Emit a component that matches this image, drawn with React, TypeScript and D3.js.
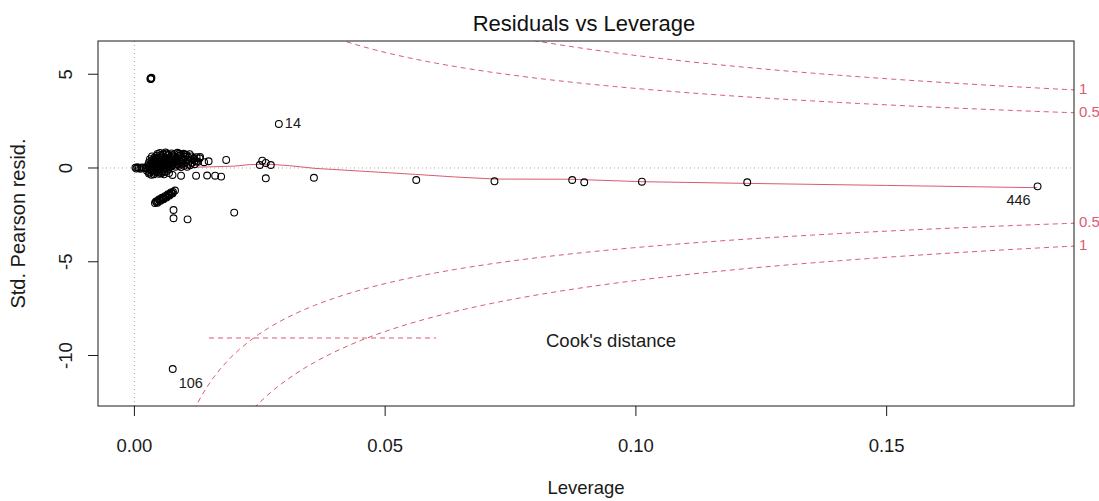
import * as d3 from 'd3';

// leverage / standardized pearson residual pairs
const nearZero: [number, number][] = [
  [0.0002, 0.02], [0.0004, -0.03], [0.0006, 0.04], [0.0009, 0.0],
  [0.0012, -0.04], [0.0015, 0.03], [0.0019, 0.01], [0.0023, -0.02]
];

const upperCluster: [number, number][] = [
  [0.0051, 0.8], [0.0062, 0.83], [0.0074, 0.78], [0.0086, 0.81], [0.0098, 0.76], [0.011, 0.74],
  [0.0035, 0.62], [0.0045, 0.66], [0.0055, 0.63], [0.0066, 0.67], [0.0078, 0.61], [0.009, 0.65],
  [0.0102, 0.6], [0.0114, 0.62], [0.0124, 0.58],
  [0.0031, 0.47], [0.0041, 0.5], [0.005, 0.46], [0.006, 0.49], [0.007, 0.45], [0.0082, 0.51],
  [0.0094, 0.47], [0.0106, 0.44], [0.0118, 0.48], [0.013, 0.52],
  [0.0029, 0.3], [0.0039, 0.34], [0.0048, 0.31], [0.0058, 0.33], [0.0068, 0.29], [0.0079, 0.32],
  [0.0091, 0.35], [0.0103, 0.3], [0.0115, 0.28], [0.0127, 0.33], [0.0139, 0.31],
  [0.0027, 0.15], [0.0037, 0.18], [0.0047, 0.14], [0.0057, 0.17], [0.0067, 0.13], [0.0077, 0.16],
  [0.0087, 0.19], [0.0099, 0.12], [0.0111, 0.15],
  [0.0148, 0.36], [0.0183, 0.43], [0.0131, 0.59], [0.0124, 0.34]
];

// points packed between the rows above, which make the blob look solid
const clusterFill: [number, number][] = [
  [0.0057, 0.73], [0.0068, 0.71], [0.008, 0.74], [0.0092, 0.7], [0.0104, 0.69],
  [0.004, 0.56], [0.005, 0.57], [0.0061, 0.55], [0.0072, 0.58], [0.0084, 0.56], [0.0096, 0.54],
  [0.0108, 0.55], [0.0119, 0.53],
  [0.0034, 0.39], [0.0044, 0.41], [0.0054, 0.4], [0.0064, 0.38], [0.0075, 0.42], [0.0086, 0.39],
  [0.0097, 0.41], [0.011, 0.38], [0.0121, 0.4],
  [0.0032, 0.23], [0.0042, 0.24], [0.0053, 0.22], [0.0063, 0.25], [0.0073, 0.23], [0.0084, 0.21],
  [0.0095, 0.24], [0.0107, 0.22], [0.012, 0.2],
  [0.0029, 0.08], [0.0039, 0.07], [0.005, 0.09], [0.006, 0.06], [0.0071, 0.08], [0.0082, 0.07],
  [0.0093, 0.05], [0.0105, 0.06],
  [0.0046, 0.75], [0.0053, 0.69], [0.0064, 0.77], [0.0076, 0.68], [0.0089, 0.76], [0.0101, 0.72],
  [0.0038, 0.44], [0.0047, 0.53], [0.0059, 0.43], [0.007, 0.52], [0.0081, 0.44], [0.0093, 0.59],
  [0.0036, 0.27], [0.0046, 0.36], [0.0056, 0.27], [0.0066, 0.35], [0.0077, 0.26], [0.0089, 0.28],
  [0.0034, 0.11], [0.0044, 0.2], [0.0055, 0.12], [0.0065, 0.2], [0.0075, 0.11], [0.0089, 0.12]
];

const lowerCluster: [number, number][] = [
  [0.0023, -0.02], [0.0033, 0.01], [0.0043, -0.03], [0.0053, 0.02], [0.0063, -0.01],
  [0.0025, -0.15], [0.0035, -0.18], [0.0045, -0.14], [0.0055, -0.17], [0.0065, -0.16],
  [0.0029, -0.3], [0.0039, -0.33], [0.0049, -0.31], [0.0059, -0.34],
  [0.0028, -0.08], [0.0038, -0.09], [0.0048, -0.07], [0.0058, -0.1], [0.0068, -0.08],
  [0.003, -0.23], [0.004, -0.25], [0.005, -0.24], [0.006, -0.22], [0.0069, -0.27],
  [0.0034, -0.12], [0.0044, -0.21], [0.0054, -0.28], [0.0064, -0.05], [0.0034, -0.36],
  [0.0076, -0.37], [0.0093, -0.41], [0.0123, -0.41], [0.0145, -0.4], [0.0161, -0.41], [0.0173, -0.46]
];

const negativeStreak: [number, number][] = [
  [0.0041, -1.87], [0.0044, -1.82], [0.0047, -1.76], [0.005, -1.72], [0.0053, -1.65], [0.0056, -1.63],
  [0.0059, -1.6], [0.0062, -1.55], [0.0065, -1.49], [0.0068, -1.45], [0.0071, -1.39], [0.0074, -1.34],
  [0.0077, -1.28], [0.0081, -1.2],
  [0.0043, -1.78], [0.0049, -1.68], [0.0055, -1.58], [0.0061, -1.5], [0.0067, -1.4], [0.0073, -1.3],
  [0.0046, -1.86], [0.0052, -1.75], [0.0058, -1.67], [0.0064, -1.58], [0.007, -1.47], [0.0076, -1.36],
  [0.0078, -2.24], [0.0078, -2.68], [0.0106, -2.74], [0.0199, -2.38]
];

const spreadPoints: [number, number][] = [
  [0.0255, 0.39], [0.025, 0.16], [0.0272, 0.16], [0.0262, 0.27], [0.0262, -0.55],
  [0.0288, 2.35], [0.0358, -0.52],
  [0.0562, -0.64], [0.0718, -0.71], [0.0873, -0.64], [0.0897, -0.76], [0.1012, -0.73],
  [0.1222, -0.76], [0.1801, -0.98],
  [0.00325, 4.78], [0.0033, 4.74], [0.0034, 4.81], [0.0032, 4.76],
  [0.00764, -10.72]
];

const idLabels = [
  { id: '14', h: 0.0288, r: 2.35, dx: 6, dy: 0, anchor: 'start' },
  { id: '106', h: 0.00764, r: -10.72, dx: 6, dy: 15, anchor: 'start' },
  { id: '446', h: 0.1801, r: -0.98, dx: -7, dy: 15, anchor: 'end' }
];

// lowess smooth through residuals
const smoothH = [0, 0.005, 0.01, 0.015, 0.02, 0.023, 0.027, 0.031, 0.036, 0.046, 0.056, 0.064, 0.072, 0.087, 0.101, 0.122, 0.15, 0.18];
const smoothR = [0, 0.01, 0.03, 0.06, 0.1, 0.18, 0.2, 0.12, -0.02, -0.18, -0.34, -0.48, -0.59, -0.6, -0.73, -0.82, -0.93, -1.05];

const cookLevels = [0.5, 1];
const cookLabels = ['0.5', '1'];
const nParams = 4;

const xTicks = [0, 0.05, 0.1, 0.15];
const yTicks = [-10, -5, 0, 5];

const W = 1099;
const H = 501;
const left = 98;
const right = 1074;
const top = 41;
const bottom = 406;
const red = '#D95B72';
const ink = '#1a1a1a';
const font = '"Liberation Sans", Arial, sans-serif';

export default function App(): JSX.Element {
  const x = d3.scaleLinear().domain([-0.00726, 0.18736]).range([left, right]);
  const y = d3.scaleLinear().domain([6.773, -12.693]).range([top, bottom]);

  const points = [
    ...nearZero, ...upperCluster, ...clusterFill, ...lowerCluster, ...negativeStreak, ...spreadPoints
  ];

  const hMin = 0.0004;
  const hMax = x.domain()[1];
  const hh = d3.range(101).map((i) => hMin + (i * (hMax - hMin)) / 100);
  const cookLine = d3
    .line<[number, number]>()
    .x((d) => x(d[0]))
    .y((d) => y(d[1]));
  const cookPaths = cookLevels.flatMap((c) =>
    [1, -1].map((s) => cookLine(hh.map((h) => [h, s * Math.sqrt((c * nParams * (1 - h)) / h)])) as string)
  );

  const smooth = d3
    .line<number>()
    .x((d) => x(d))
    .y((_, i) => y(smoothR[i]));

  return (
    <svg
      xmlns="http://www.w3.org/2000/svg"
      width={W}
      height={H}
      style={{ position: 'absolute', left: 0, top: 0, background: '#fff' }}
      fontFamily={font}
    >
      <defs>
        <clipPath id="plot-clip">
          <rect x={left} y={top} width={right - left} height={bottom - top} />
        </clipPath>
      </defs>
      <rect width={W} height={H} fill="#fff" />

      <g clipPath="url(#plot-clip)">
        <line x1={left} x2={right} y1={y(0)} y2={y(0)} stroke="#aaa" strokeDasharray="1,3" />
        <line x1={x(0)} x2={x(0)} y1={top} y2={bottom} stroke="#aaa" strokeDasharray="1,3" />
        {cookPaths.map((d, i) => (
          <path key={i} d={d} fill="none" stroke={red} strokeWidth={1} strokeDasharray="5,4" />
        ))}
        <path d={smooth(smoothH) as string} fill="none" stroke={red} strokeWidth={1} />
        {points.map((p, i) => (
          <circle key={i} cx={x(p[0])} cy={y(p[1])} r={3.4} fill="none" stroke="#000" strokeWidth={1.1} />
        ))}
      </g>

      {idLabels.map((l) => (
        <text
          key={l.id}
          x={x(l.h) + l.dx}
          y={y(l.r) + l.dy}
          fontSize={14.5}
          textAnchor={l.anchor}
          dominantBaseline="middle"
          fill={ink}
        >
          {l.id}
        </text>
      ))}

      {cookLevels.flatMap((c, i) =>
        [1, -1].map((s) => (
          <text
            key={`${c}-${s}`}
            x={right + 5}
            y={y(s * Math.sqrt((c * nParams * (1 - hMax)) / hMax))}
            fontSize={15}
            fill={red}
            dominantBaseline="middle"
          >
            {cookLabels[i]}
          </text>
        ))
      )}

      {/* legend */}
      <line x1={209} x2={436} y1={338} y2={338} stroke={red} strokeDasharray="5,4" />
      <text x={546} y={342} fontSize={18.5} dominantBaseline="middle" fill={ink}>
        Cook's distance
      </text>

      <rect x={left} y={top} width={right - left} height={bottom - top} fill="none" stroke={ink} />

      {xTicks.map((t) => (
        <g key={t}>
          <line x1={x(t)} x2={x(t)} y1={bottom} y2={bottom + 10} stroke={ink} />
          <text x={x(t)} y={452} fontSize={18.5} textAnchor="middle" fill={ink}>
            {d3.format('.2f')(t)}
          </text>
        </g>
      ))}
      {yTicks.map((t) => (
        <g key={t}>
          <line x1={left - 10} x2={left} y1={y(t)} y2={y(t)} stroke={ink} />
          <text
            transform={`translate(72,${y(t)}) rotate(-90)`}
            fontSize={18.5}
            textAnchor="middle"
            fill={ink}
          >
            {t}
          </text>
        </g>
      ))}

      <text x={584} y={31} fontSize={22} textAnchor="middle" fill="#111">
        Residuals vs Leverage
      </text>
      <text x={(left + right) / 2} y={494} fontSize={18.5} textAnchor="middle" fill={ink}>
        Leverage
      </text>
      <text transform={`translate(25,${(top + bottom) / 2}) rotate(-90)`} fontSize={20} textAnchor="middle" fill={ink}>
        Std. Pearson resid.
      </text>
    </svg>
  );
}
